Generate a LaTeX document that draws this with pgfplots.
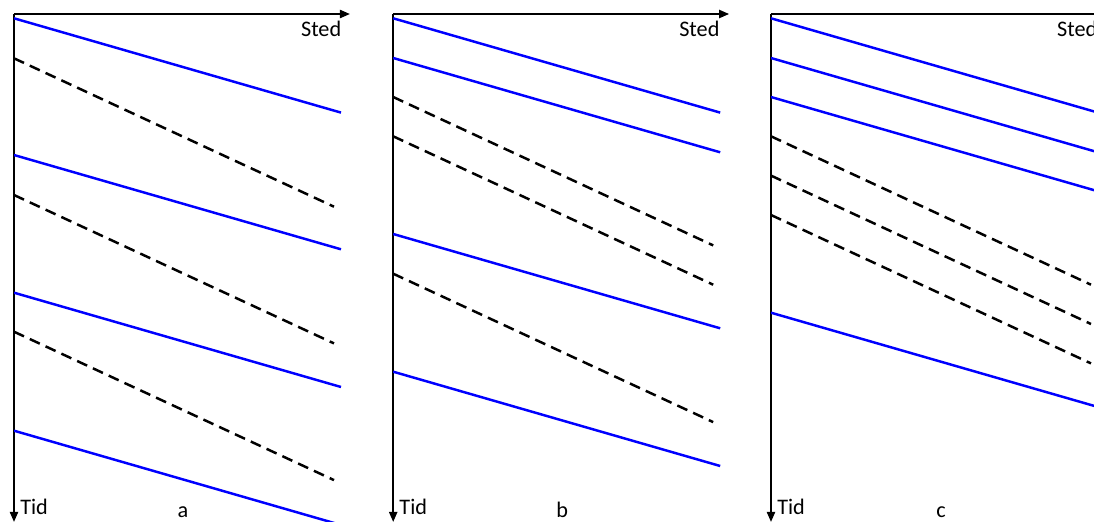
\documentclass[border=0pt]{standalone}
\usepackage{fontspec}
\setmainfont{Carlito}
\usepackage{pgfplots}
\pgfplotsset{compat=1.18}
\usetikzlibrary{arrows.meta}

% one unit = one pixel of the reference
\pgfplotsset{
  panel/.style={
    x=0.25mm, y=0.25mm, y dir=reverse,
    xmin=0, xmax=336, ymin=0, ymax=508,
    enlargelimits=false,
    anchor=origin,
    axis lines=middle,
    axis line style={line width=0.5mm, -{Triangle[length=2.5mm,width=2mm]}},
    xtick=\empty, ytick=\empty,
    every axis plot/.append style={line width=0.62mm},
  },
  tog/.style={color=blue},
  tom/.style={color=black, dash pattern=on 2.75mm off 1.6mm},
}
\tikzset{lbl/.style={inner sep=0pt, font=\fontsize{15.8}{18}\selectfont}}

\begin{document}
\begin{tikzpicture}
\path[use as bounding box] (0,0) rectangle (273.5mm,-130.75mm);
\clip (0,0) rectangle (273.5mm,-130.75mm);

% a
\begin{axis}[panel, at={(3.5mm,-3.5mm)}]
\addplot[tog] coordinates {(0,4.3) (327,98.6)};
\addplot[tom] coordinates {(0,44.3) (320,192.7)};
\addplot[tog] coordinates {(0,141) (327,235.3)};
\addplot[tom] coordinates {(0,181) (320,329.4)};
\addplot[tog] coordinates {(0,278.7) (327,373)};
\addplot[tom] coordinates {(0,317.7) (320,466.1)};
\addplot[tog] coordinates {(0,416.7) (327,511)};
\node[lbl, anchor=base east] at (axis cs:327.5,22.7) {Sted};
\node[lbl, anchor=base west] at (axis cs:6,501) {Tid};
\node[lbl, anchor=base] at (axis cs:169,504) {a};
\end{axis}

% b
\begin{axis}[panel, at={(98.3mm,-3.5mm)}]
\addplot[tog] coordinates {(0,4.3) (327,98.6)};
\addplot[tog] coordinates {(0,44) (327,138.3)};
\addplot[tom] coordinates {(0,83) (320,231.4)};
\addplot[tom] coordinates {(0,122.3) (320,270.7)};
\addplot[tog] coordinates {(0,220) (327,314.3)};
\addplot[tom] coordinates {(0,259.7) (320,408.1)};
\addplot[tog] coordinates {(0,357.7) (327,452)};
\node[lbl, anchor=base east] at (axis cs:326.5,22.7) {Sted};
\node[lbl, anchor=base west] at (axis cs:6,501) {Tid};
\node[lbl, anchor=base] at (axis cs:169,504) {b};
\end{axis}

% c
\begin{axis}[panel, at={(192.75mm,-3.5mm)}]
\addplot[tog] coordinates {(0,4.3) (327,98.6)};
\addplot[tog] coordinates {(0,44) (327,138.3)};
\addplot[tog] coordinates {(0,83) (327,177.3)};
\addplot[tom] coordinates {(0,122.3) (320,270.7)};
\addplot[tom] coordinates {(0,161.6) (320,310)};
\addplot[tom] coordinates {(0,201) (320,349.4)};
\addplot[tog] coordinates {(0,298.7) (327,393)};
\node[lbl, anchor=base east] at (axis cs:326.5,22.7) {Sted};
\node[lbl, anchor=base west] at (axis cs:6,501) {Tid};
\node[lbl, anchor=base] at (axis cs:170,504) {c};
\end{axis}
\end{tikzpicture}
\end{document}
